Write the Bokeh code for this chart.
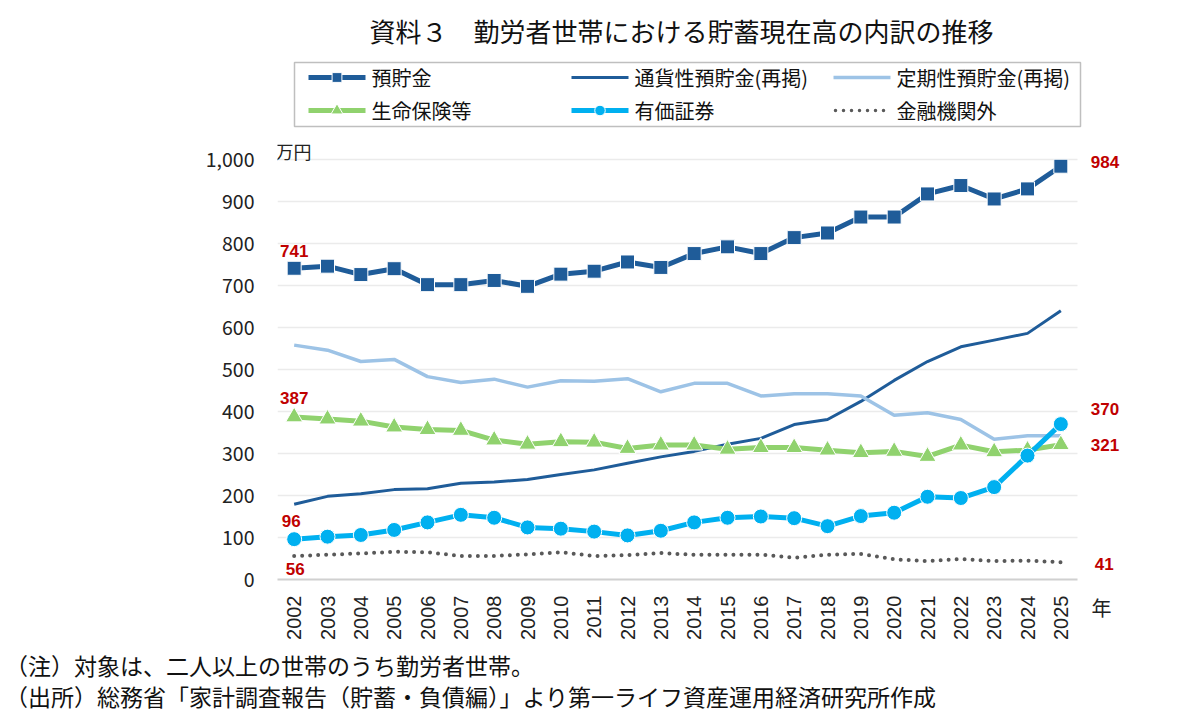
from bokeh.core.properties import value
from bokeh.embed import file_html
from bokeh.layouts import column
from bokeh.models import (ColumnDataSource, Div, FixedTicker, Label, LabelSet,
                          LinearAxis, NumeralTickFormatter, Range1d)
from bokeh.plotting import figure
from bokeh.resources import INLINE
import math

# ---- data (万円) ----
years = list(range(2002, 2026))
deposits = [741, 746, 726, 740, 702, 702, 712, 698, 727, 734, 756, 743,
            776, 792, 776, 814, 825, 863, 863, 918, 938, 906, 930, 984]
demand_deposits = [179, 198, 204, 214, 216, 229, 232, 238, 250, 261, 277, 292,
                   305, 322, 336, 369, 381, 424, 474, 519, 554, 570, 586, 640]
time_deposits = [558, 546, 519, 524, 483, 469, 477, 458, 473, 472, 478, 447,
                 467, 467, 437, 442, 442, 437, 391, 397, 381, 334, 342, 342]
life_insurance = [387, 382, 377, 363, 357, 355, 332, 322, 328, 327, 312, 320,
                  320, 310, 314, 314, 308, 302, 305, 293, 320, 304, 308, 321]
securities = [96, 102, 106, 118, 136, 154, 147, 124, 121, 114, 105, 116,
              136, 147, 150, 146, 127, 151, 159, 197, 194, 220, 295, 370]
non_financial = [56, 59, 62, 66, 65, 56, 56, 60, 65, 56, 58, 63,
                 59, 59, 59, 52, 59, 61, 48, 44, 49, 44, 45, 41]

series_names = ["預貯金", "通貨性預貯金(再掲)", "定期性預貯金(再掲)",
                "生命保険等", "有価証券", "金融機関外"]
y_ticks = list(range(0, 1001, 100))

TITLE = "資料３　勤労者世帯における貯蓄現在高の内訳の推移"
NOTE = "（注）対象は、二人以上の世帯のうち勤労者世帯。"
SOURCE = "（出所）総務省「家計調査報告（貯蓄・負債編）」より第一ライフ資産運用経済研究所作成"

JP = "Noto Sans CJK JP"
LABEL_RED = "#C00000"
PAGE_W = 1192
BORDER_L, BORDER_R = 277, 67           # plot frame spans x = 277 .. 1125
PX_PER_YEAR = 800 / 24

# drawing style per series: colour, line width, marker, marker size, dash
styles = [
    dict(color="#1F5C99", width=5, marker="square", size=14, dash="solid"),
    dict(color="#1F5C99", width=3, marker=None, size=0, dash="solid"),
    dict(color="#9DC3E6", width=3.5, marker=None, size=0, dash="solid"),
    dict(color="#90D26E", width=5, marker="triangle", size=17, dash="solid"),
    dict(color="#00B0F0", width=5, marker="circle", size=15, dash="solid"),
    dict(color="#595959", width=4, marker=None, size=0, dash="0 8"),
]
all_series = [deposits, demand_deposits, time_deposits,
              life_insurance, securities, non_financial]

# ---- header: title and legend, laid out in page pixel coordinates ----
HDR_H = 135
hdr = figure(width=PAGE_W, height=HDR_H,
             x_range=Range1d(BORDER_L, PAGE_W - BORDER_R),
             y_range=Range1d(HDR_H, 0), output_backend="svg",
             toolbar_location=None, min_border_left=BORDER_L,
             min_border_right=BORDER_R, min_border_top=0, min_border_bottom=0,
             x_axis_location=None, y_axis_location=None)
hdr.grid.visible = False
hdr.outline_line_color = None

hdr.text(x=[681], y=[30], text=[TITLE], text_font=value(JP),
         text_font_size="26px", text_align="center", text_baseline="middle",
         text_color="#111111")

hdr.quad(left=[294], right=[1080], top=[62], bottom=[126], fill_color=None,
         line_color="#BFBFBF", line_width=1.5)

col_x = [308, 571, 833]
row_y = [77, 110]
swatch = 57
for i, (name, st) in enumerate(zip(series_names, styles)):
    x0 = col_x[i % 3]
    yy = row_y[i // 3]
    if st["dash"] == "solid":
        hdr.line([x0, x0 + swatch], [yy, yy], line_color=st["color"],
                 line_width=st["width"])
    else:
        hdr.line([x0 + 2, x0 + swatch - 2], [yy, yy], line_color=st["color"],
                 line_width=st["width"] - 0.5, line_dash="0 8",
                 line_cap="round")
    if st["marker"]:
        hdr.scatter([x0 + swatch / 2], [yy], marker=st["marker"],
                    size=st["size"] * 0.7, fill_color=st["color"],
                    line_color="white", line_width=1)
    hdr.text(x=[x0 + swatch + 6], y=[yy], text=[name], text_font=value(JP),
             text_font_size="20px", text_baseline="middle",
             text_color="#111111")

# ---- main chart ----
frame_w = PAGE_W - BORDER_L - BORDER_R
x_start = years[0] - 0.5
x_end = x_start + frame_w / PX_PER_YEAR

p = figure(x_range=Range1d(x_start, x_end), y_range=Range1d(0, 1047.6),
           width=PAGE_W, height=510, output_backend="svg",
           toolbar_location=None, min_border_left=BORDER_L,
           min_border_right=BORDER_R, min_border_top=4, min_border_bottom=66)
p.outline_line_color = None
p.background_fill_color = "white"

# horizontal grid limited to the span of the years
p.xgrid.grid_line_color = None
grid = p.ygrid[0]
grid.ticker = FixedTicker(ticks=y_ticks)
if "cross_bounds" in grid.properties():
    grid.cross_bounds = (years[0] - 0.5, years[-1] + 0.5)
    grid.grid_line_color = "#EBEBEB"
    grid.grid_line_width = 1.5
else:
    grid.grid_line_color = None
    p.segment(x0=[years[0] - 0.5] * len(y_ticks),
              x1=[years[-1] + 0.5] * len(y_ticks), y0=y_ticks, y1=y_ticks,
              line_color="#EBEBEB", line_width=1.5, level="underlay")

for vals, st in zip(all_series, styles):
    if st["dash"] == "solid":
        p.line(years, vals, line_color=st["color"], line_width=st["width"])
    else:
        p.line(years, vals, line_color=st["color"], line_width=st["width"],
               line_dash=st["dash"], line_cap="round")
    if st["marker"]:
        p.scatter(years, vals, marker=st["marker"], size=st["size"],
                  fill_color=st["color"], line_color="white", line_width=1)

p.yaxis.ticker = FixedTicker(ticks=y_ticks)
p.yaxis.formatter = NumeralTickFormatter(format="0,0")
p.yaxis.axis_line_color = None
p.yaxis.major_tick_line_color = None
p.yaxis.minor_tick_line_color = None
p.yaxis.major_label_standoff = 17
p.yaxis.major_label_text_font = JP
p.yaxis.major_label_text_font_size = "19.5px"
p.yaxis.major_label_text_color = "#222222"

p.xaxis.ticker = FixedTicker(ticks=years)
p.xaxis.formatter = NumeralTickFormatter(format="0")
p.xaxis.bounds = (years[0] - 0.5, years[-1] + 0.5)
p.xaxis.major_label_orientation = math.pi / 2
p.xaxis.axis_line_color = "#D0D0D0"
p.xaxis.axis_line_width = 2
p.xaxis.major_tick_line_color = None
p.xaxis.minor_tick_line_color = None
p.xaxis.major_label_standoff = 10
p.xaxis.major_label_text_font = "Liberation Sans"
p.xaxis.major_label_text_font_size = "20px"
p.xaxis.major_label_text_color = "#222222"

# unit of the x axis, set beside the last year label
year_unit = LinearAxis(ticker=FixedTicker(ticks=[0]),
                       major_label_overrides={0: "\n\n年"},
                       axis_line_color=None, major_tick_line_color=None,
                       minor_tick_line_color=None, major_label_standoff=-40,
                       major_label_text_font=JP,
                       major_label_text_font_size="20px",
                       major_label_text_line_height=0.97,
                       major_label_text_color="#222222")
p.add_layout(year_unit, "right")

# value labels at both ends of the series
first, last = 0, len(years) - 1
left_labels = [(deposits, 0, 17), (life_insurance, 0, 19),
               (securities, -3, 18), (non_financial, 1, -13)]
right_labels = [(deposits, 30, 4), (securities, 30, 15),
                (life_insurance, 30, 0), (non_financial, 34, -2)]


def label_source(specs, idx):
    return ColumnDataSource(dict(
        x=[years[idx] for _ in specs],
        y=[s[0][idx] for s in specs],
        text=[str(s[0][idx]) for s in specs],
        dx=[s[1] for s in specs],
        dy=[s[2] for s in specs],
    ))


label_style = dict(text_font=value("Liberation Sans"), text_font_style="bold",
                   text_font_size="17px", text_color=LABEL_RED,
                   text_baseline="middle")
p.add_layout(LabelSet(x="x", y="y", text="text", x_offset="dx", y_offset="dy",
                      source=label_source(left_labels, first),
                      text_align="center", **label_style))
p.add_layout(LabelSet(x="x", y="y", text="text", x_offset="dx", y_offset="dy",
                      source=label_source(right_labels, last),
                      text_align="left", **label_style))

p.add_layout(Label(x=-2, y=429, x_units="screen", y_units="screen",
                   text="万円", text_font=JP, text_font_size="18px",
                   text_baseline="middle", text_color="#222222"))

# ---- footer notes ----
ftr = Div(text=NOTE + "<br>" + SOURCE, width=PAGE_W, height=77, margin=0,
          styles={"font-family": JP, "font-size": "23px",
                  "line-height": "31px", "color": "#111111",
                  "padding": "5px 0 0 5px", "white-space": "nowrap"})

layout = column(hdr, p, ftr, spacing=0)
open("out.html", "w").write(file_html(layout, INLINE))
